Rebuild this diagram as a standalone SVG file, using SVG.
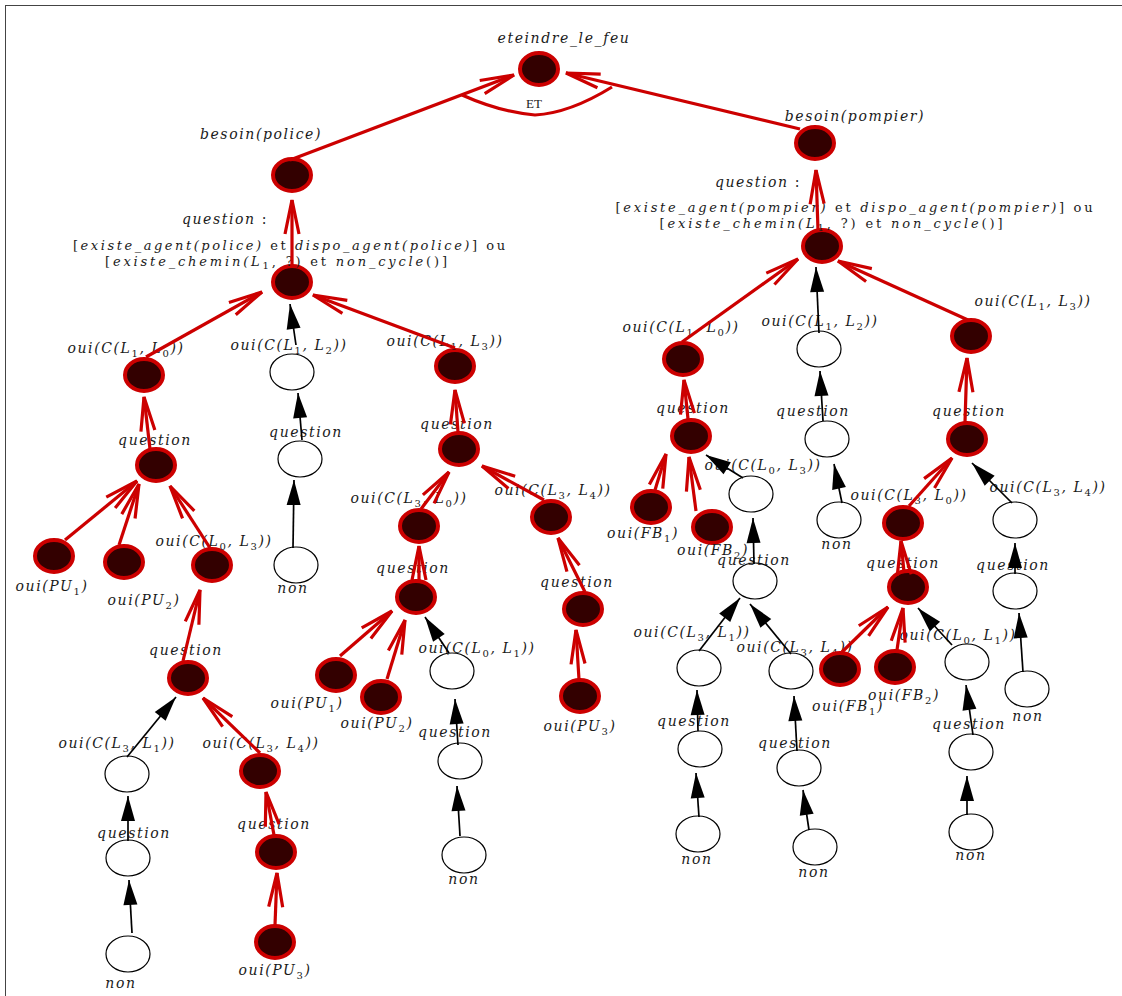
<svg xmlns="http://www.w3.org/2000/svg" width="1122" height="996" viewBox="0 0 1122 996">
<defs>
<style>
.m{font-family:"DejaVu Serif","Liberation Serif",serif;font-style:italic;font-size:14px;letter-spacing:1.6px;text-anchor:middle;fill:#1a1a1a}
.b{font-family:"DejaVu Serif","Liberation Serif",serif;font-style:normal;font-size:13px;text-anchor:middle;fill:#1a1a1a}
.i{font-style:italic}
.u{font-style:normal}
.s{font-size:10px;font-style:normal}
.red{fill:#330000;stroke:#cc0000;stroke-width:4}
.emp{fill:#fff;stroke:#000;stroke-width:1.2}
.er{stroke:#cc0000;stroke-width:3.2;fill:none;marker-end:url(#ar)}
.eb{stroke:#000;stroke-width:1.7;fill:none;marker-end:url(#ab)}
</style>
<marker id="ar" markerUnits="userSpaceOnUse" markerWidth="44" markerHeight="24" viewBox="-40 -12 44 24" refX="0" refY="0" orient="auto" overflow="visible"><path d="M-34,-7 L0,0 L-34,7" fill="none" stroke="#cc0000" stroke-width="3.2"/></marker>
<marker id="ab" markerUnits="userSpaceOnUse" markerWidth="30" markerHeight="20" viewBox="-28 -10 30 20" refX="0" refY="0" orient="auto" overflow="visible"><path d="M-25,-7 L0,0 L-25,7 Z" fill="#000"/></marker>
</defs>
<rect x="5.5" y="5.5" width="1130" height="1000" fill="none" stroke="#444" stroke-width="1"/>

<g id="nodes">
<g id="n-eteindre"><ellipse class="red" cx="539" cy="69" rx="19" ry="16"/><text class="m" x="564" y="43">eteindre_le_feu</text></g>
<g id="n-besoin-police"><ellipse class="red" cx="292" cy="175" rx="19" ry="16"/><text class="m" x="261" y="139">besoin(police)</text></g>
<g id="n-besoin-pompier"><ellipse class="red" cx="815" cy="143" rx="19" ry="16"/><text class="m" x="855" y="121">besoin(pompier)</text></g>
<g id="n-q-police"><ellipse class="red" cx="292" cy="282" rx="19" ry="16"/>
<text class="m" x="225" y="224">question<tspan class="u"> :</tspan></text>
<text class="b" x="289" y="250" textLength="432" lengthAdjust="spacing">[<tspan class="i">existe_agent(police)</tspan> et <tspan class="i">dispo_agent(police)</tspan>] ou</text>
<text class="b" x="276" y="266" textLength="342" lengthAdjust="spacing">[<tspan class="i">existe_chemin(L</tspan><tspan class="s" dy="3">1</tspan><tspan dy="-3">, ?) et </tspan><tspan class="i">non_cycle</tspan>()]</text></g>
<g id="n-q-pompier"><ellipse class="red" cx="822" cy="246" rx="19" ry="16"/>
<text class="m" x="758" y="187">question<tspan class="u"> :</tspan></text>
<text class="b" x="854" y="212" textLength="477" lengthAdjust="spacing">[<tspan class="i">existe_agent(pompier)</tspan> et <tspan class="i">dispo_agent(pompier)</tspan>] ou</text>
<text class="b" x="831" y="228" textLength="343" lengthAdjust="spacing">[<tspan class="i">existe_chemin(L</tspan><tspan class="s" dy="3">1</tspan><tspan dy="-3">, ?) et </tspan><tspan class="i">non_cycle</tspan>()]</text></g>

<g id="n-a1"><ellipse class="red" cx="144" cy="375" rx="19" ry="16"/><text class="m" x="126" y="353">oui(C(L<tspan class="s" dy="4">1</tspan><tspan dy="-4">, L</tspan><tspan class="s" dy="4">0</tspan><tspan dy="-4">))</tspan></text></g>
<g id="n-a2"><ellipse class="emp" cx="292" cy="372" rx="22" ry="18"/><text class="m" x="289" y="350">oui(C(L<tspan class="s" dy="4">1</tspan><tspan dy="-4">, L</tspan><tspan class="s" dy="4">2</tspan><tspan dy="-4">))</tspan></text></g>
<g id="n-a3"><ellipse class="red" cx="455" cy="366" rx="19" ry="16"/><text class="m" x="445" y="346">oui(C(L<tspan class="s" dy="4">1</tspan><tspan dy="-4">, L</tspan><tspan class="s" dy="4">3</tspan><tspan dy="-4">))</tspan></text></g>
<g id="n-a1q"><ellipse class="red" cx="156" cy="465" rx="19" ry="16"/><text class="m" x="155" y="445">question</text></g>
<g id="n-a2q"><ellipse class="emp" cx="300" cy="459" rx="22" ry="18"/><text class="m" x="306" y="437">question</text></g>
<g id="n-a2n"><ellipse class="emp" cx="296" cy="565" rx="22" ry="18"/><text class="m" x="293" y="593">non</text></g>
<g id="n-a1a"><ellipse class="red" cx="54" cy="556" rx="19" ry="16"/><text class="m" x="52" y="591">oui(PU<tspan class="s" dy="4">1</tspan><tspan dy="-4">)</tspan></text></g>
<g id="n-a1b"><ellipse class="red" cx="124" cy="562" rx="19" ry="16"/><text class="m" x="144" y="605">oui(PU<tspan class="s" dy="4">2</tspan><tspan dy="-4">)</tspan></text></g>
<g id="n-a1c"><ellipse class="red" cx="212" cy="565" rx="19" ry="16"/><text class="m" x="214" y="546">oui(C(L<tspan class="s" dy="4">0</tspan><tspan dy="-4">, L</tspan><tspan class="s" dy="4">3</tspan><tspan dy="-4">))</tspan></text></g>
<g id="n-a1cq"><ellipse class="red" cx="188" cy="678" rx="19" ry="16"/><text class="m" x="186" y="655">question</text></g>
<g id="n-a1cqa"><ellipse class="emp" cx="127" cy="774" rx="22" ry="18"/><text class="m" x="117" y="748">oui(C(L<tspan class="s" dy="4">3</tspan><tspan dy="-4">, L</tspan><tspan class="s" dy="4">1</tspan><tspan dy="-4">))</tspan></text></g>
<g id="n-a1cqb"><ellipse class="red" cx="260" cy="771" rx="19" ry="16"/><text class="m" x="261" y="748">oui(C(L<tspan class="s" dy="4">3</tspan><tspan dy="-4">, L</tspan><tspan class="s" dy="4">4</tspan><tspan dy="-4">))</tspan></text></g>
<g id="n-a1cqa-q"><ellipse class="emp" cx="128" cy="858" rx="22" ry="18"/><text class="m" x="134" y="838">question</text></g>
<g id="n-a1cqa-n"><ellipse class="emp" cx="128" cy="954" rx="22" ry="18"/><text class="m" x="121" y="988">non</text></g>
<g id="n-a1cqb-q"><ellipse class="red" cx="276" cy="852" rx="19" ry="16"/><text class="m" x="274" y="829">question</text></g>
<g id="n-a1cqb-p"><ellipse class="red" cx="275" cy="942" rx="19" ry="16"/><text class="m" x="275" y="975">oui(PU<tspan class="s" dy="4">3</tspan><tspan dy="-4">)</tspan></text></g>

<g id="n-a3q"><ellipse class="red" cx="459" cy="449" rx="19" ry="16"/><text class="m" x="457" y="429">question</text></g>
<g id="n-a3a"><ellipse class="red" cx="419" cy="526" rx="19" ry="16"/><text class="m" x="409" y="503">oui(C(L<tspan class="s" dy="4">3</tspan><tspan dy="-4">, L</tspan><tspan class="s" dy="4">0</tspan><tspan dy="-4">))</tspan></text></g>
<g id="n-a3b"><ellipse class="red" cx="551" cy="517" rx="19" ry="16"/><text class="m" x="553" y="495">oui(C(L<tspan class="s" dy="4">3</tspan><tspan dy="-4">, L</tspan><tspan class="s" dy="4">4</tspan><tspan dy="-4">))</tspan></text></g>
<g id="n-a3aq"><ellipse class="red" cx="416" cy="597" rx="19" ry="16"/><text class="m" x="413" y="573">question</text></g>
<g id="n-a3a-pu1"><ellipse class="red" cx="336" cy="675" rx="19" ry="16"/><text class="m" x="307" y="708">oui(PU<tspan class="s" dy="4">1</tspan><tspan dy="-4">)</tspan></text></g>
<g id="n-a3a-pu2"><ellipse class="red" cx="381" cy="697" rx="19" ry="16"/><text class="m" x="377" y="728">oui(PU<tspan class="s" dy="4">2</tspan><tspan dy="-4">)</tspan></text></g>
<g id="n-a3a-c"><ellipse class="emp" cx="452" cy="671" rx="22" ry="18"/><text class="m" x="477" y="653">oui(C(L<tspan class="s" dy="4">0</tspan><tspan dy="-4">, L</tspan><tspan class="s" dy="4">1</tspan><tspan dy="-4">))</tspan></text></g>
<g id="n-a3a-c-q"><ellipse class="emp" cx="460" cy="761" rx="22" ry="18"/><text class="m" x="455" y="737">question</text></g>
<g id="n-a3a-c-n"><ellipse class="emp" cx="464" cy="855" rx="22" ry="18"/><text class="m" x="464" y="884">non</text></g>
<g id="n-a3bq"><ellipse class="red" cx="583" cy="609" rx="19" ry="16"/><text class="m" x="577" y="587">question</text></g>
<g id="n-a3b-p"><ellipse class="red" cx="580" cy="696" rx="19" ry="16"/><text class="m" x="580" y="731">oui(PU<tspan class="s" dy="4">3</tspan><tspan dy="-4">)</tspan></text></g>

<g id="n-b1"><ellipse class="red" cx="683" cy="359" rx="19" ry="16"/><text class="m" x="681" y="332">oui(C(L<tspan class="s" dy="4">1</tspan><tspan dy="-4">, L</tspan><tspan class="s" dy="4">0</tspan><tspan dy="-4">))</tspan></text></g>
<g id="n-b2"><ellipse class="emp" cx="819" cy="349" rx="22" ry="18"/><text class="m" x="820" y="326">oui(C(L<tspan class="s" dy="4">1</tspan><tspan dy="-4">, L</tspan><tspan class="s" dy="4">2</tspan><tspan dy="-4">))</tspan></text></g>
<g id="n-b3"><ellipse class="red" cx="971" cy="336" rx="19" ry="16"/><text class="m" x="1033" y="306">oui(C(L<tspan class="s" dy="4">1</tspan><tspan dy="-4">, L</tspan><tspan class="s" dy="4">3</tspan><tspan dy="-4">))</tspan></text></g>
<g id="n-b1q"><ellipse class="red" cx="691" cy="436" rx="19" ry="16"/><text class="m" x="693" y="413">question</text></g>
<g id="n-b1a"><ellipse class="red" cx="651" cy="507" rx="19" ry="16"/><text class="m" x="643" y="538">oui(FB<tspan class="s" dy="4">1</tspan><tspan dy="-4">)</tspan></text></g>
<g id="n-b1b"><ellipse class="red" cx="712" cy="527" rx="19" ry="16"/><text class="m" x="713" y="555">oui(FB<tspan class="s" dy="4">2</tspan><tspan dy="-4">)</tspan></text></g>
<g id="n-b1c"><ellipse class="emp" cx="751" cy="494" rx="22" ry="18"/><text class="m" x="763" y="470">oui(C(L<tspan class="s" dy="4">0</tspan><tspan dy="-4">, L</tspan><tspan class="s" dy="4">3</tspan><tspan dy="-4">))</tspan></text></g>
<g id="n-b1cq"><ellipse class="emp" cx="755" cy="581" rx="22" ry="18"/><text class="m" x="754" y="565">question</text></g>
<g id="n-b1cq-a"><ellipse class="emp" cx="699" cy="668" rx="22" ry="18"/><text class="m" x="692" y="637">oui(C(L<tspan class="s" dy="4">3</tspan><tspan dy="-4">, L</tspan><tspan class="s" dy="4">1</tspan><tspan dy="-4">))</tspan></text></g>
<g id="n-b1cq-b"><ellipse class="emp" cx="791" cy="671" rx="22" ry="18"/><text class="m" x="795" y="652">oui(C(L<tspan class="s" dy="4">3</tspan><tspan dy="-4">, L</tspan><tspan class="s" dy="4">4</tspan><tspan dy="-4">))</tspan></text></g>
<g id="n-b1cq-a-q"><ellipse class="emp" cx="700" cy="749" rx="22" ry="18"/><text class="m" x="694" y="726">question</text></g>
<g id="n-b1cq-a-n"><ellipse class="emp" cx="698" cy="834" rx="22" ry="18"/><text class="m" x="697" y="864">non</text></g>
<g id="n-b1cq-b-q"><ellipse class="emp" cx="799" cy="768" rx="22" ry="18"/><text class="m" x="795" y="748">question</text></g>
<g id="n-b1cq-b-n"><ellipse class="emp" cx="815" cy="847" rx="22" ry="18"/><text class="m" x="814" y="877">non</text></g>
<g id="n-b2q"><ellipse class="emp" cx="827" cy="439" rx="22" ry="18"/><text class="m" x="813" y="416">question</text></g>
<g id="n-b2n"><ellipse class="emp" cx="839" cy="520" rx="22" ry="18"/><text class="m" x="837" y="549">non</text></g>
<g id="n-b3q"><ellipse class="red" cx="967" cy="439" rx="19" ry="16"/><text class="m" x="969" y="416">question</text></g>
<g id="n-b3a"><ellipse class="red" cx="903" cy="523" rx="19" ry="16"/><text class="m" x="909" y="500">oui(C(L<tspan class="s" dy="4">3</tspan><tspan dy="-4">, L</tspan><tspan class="s" dy="4">0</tspan><tspan dy="-4">))</tspan></text></g>
<g id="n-b3b"><ellipse class="emp" cx="1015" cy="520" rx="22" ry="18"/><text class="m" x="1048" y="492">oui(C(L<tspan class="s" dy="4">3</tspan><tspan dy="-4">, L</tspan><tspan class="s" dy="4">4</tspan><tspan dy="-4">))</tspan></text></g>
<g id="n-b3aq"><ellipse class="red" cx="908" cy="587" rx="19" ry="16"/><text class="m" x="903" y="568">question</text></g>
<g id="n-b3a-fb1"><ellipse class="red" cx="840" cy="669" rx="19" ry="16"/><text class="m" x="848" y="711">oui(FB<tspan class="s" dy="4">1</tspan><tspan dy="-4">)</tspan></text></g>
<g id="n-b3a-fb2"><ellipse class="red" cx="895" cy="667" rx="19" ry="16"/><text class="m" x="904" y="700">oui(FB<tspan class="s" dy="4">2</tspan><tspan dy="-4">)</tspan></text></g>
<g id="n-b3a-c"><ellipse class="emp" cx="967" cy="662" rx="22" ry="18"/><text class="m" x="958" y="640">oui(C(L<tspan class="s" dy="4">0</tspan><tspan dy="-4">, L</tspan><tspan class="s" dy="4">1</tspan><tspan dy="-4">))</tspan></text></g>
<g id="n-b3a-c-q"><ellipse class="emp" cx="971" cy="752" rx="22" ry="18"/><text class="m" x="969" y="729">question</text></g>
<g id="n-b3a-c-n"><ellipse class="emp" cx="971" cy="832" rx="22" ry="18"/><text class="m" x="971" y="860">non</text></g>
<g id="n-b3bq"><ellipse class="emp" cx="1015" cy="591" rx="22" ry="18"/><text class="m" x="1013" y="570">question</text></g>
<g id="n-b3b-n"><ellipse class="emp" cx="1027" cy="689" rx="22" ry="18"/><text class="m" x="1028" y="721">non</text></g>
</g>

<g id="connectors">
<path d="M462,95 Q500,112 535,115 Q570,113 612,87" fill="none" stroke="#cc0000" stroke-width="3.2"/>
<text class="b" x="534" y="108" style="font-family:'Liberation Serif',serif;font-size:13px">ET</text>
<line class="er" x1="290" y1="160" x2="514" y2="75"/>
<line class="er" x1="800" y1="129" x2="566" y2="73"/>
<line class="er" x1="292" y1="265" x2="292" y2="200"/>
<line class="er" x1="818" y1="230" x2="816" y2="170"/>
<line class="er" x1="146" y1="357" x2="262" y2="292"/>
<line class="er" x1="455" y1="348" x2="313" y2="295"/>
<line class="er" x1="150" y1="449" x2="144" y2="397"/>
<line class="er" x1="65" y1="540" x2="137" y2="481"/>
<line class="er" x1="119" y1="545" x2="139" y2="484"/>
<line class="er" x1="210" y1="548" x2="170" y2="486"/>
<line class="er" x1="183" y1="661" x2="200" y2="590"/>
<line class="er" x1="260" y1="753" x2="203" y2="698"/>
<line class="er" x1="274" y1="835" x2="266" y2="792"/>
<line class="er" x1="275" y1="925" x2="277" y2="873"/>
<line class="er" x1="458" y1="432" x2="455" y2="390"/>
<line class="er" x1="421" y1="509" x2="449" y2="472"/>
<line class="er" x1="544" y1="500" x2="482" y2="466"/>
<line class="er" x1="419" y1="580" x2="419" y2="546"/>
<line class="er" x1="340" y1="656" x2="392" y2="611"/>
<line class="er" x1="387" y1="679" x2="405" y2="620"/>
<line class="er" x1="585" y1="592" x2="558" y2="538"/>
<line class="er" x1="579" y1="680" x2="576" y2="630"/>
<line class="er" x1="682" y1="342" x2="798" y2="259"/>
<line class="er" x1="968" y1="320" x2="838" y2="261"/>
<line class="er" x1="688" y1="419" x2="684" y2="380"/>
<line class="er" x1="655" y1="490" x2="666" y2="454"/>
<line class="er" x1="696" y1="511" x2="689" y2="457"/>
<line class="er" x1="965" y1="422" x2="967" y2="358"/>
<line class="er" x1="909" y1="506" x2="952" y2="458"/>
<line class="er" x1="904" y1="572" x2="901" y2="541"/>
<line class="er" x1="842" y1="652" x2="888" y2="607"/>
<line class="er" x1="897" y1="650" x2="903" y2="608"/>

<line class="eb" x1="296" y1="345" x2="290" y2="304"/>
<line class="eb" x1="302" y1="440" x2="298" y2="393"/>
<line class="eb" x1="293" y1="548" x2="294" y2="480"/>
<line class="eb" x1="127" y1="757" x2="176" y2="697"/>
<line class="eb" x1="128" y1="841" x2="128" y2="796"/>
<line class="eb" x1="132" y1="933" x2="129" y2="880"/>
<line class="eb" x1="449" y1="653" x2="425" y2="617"/>
<line class="eb" x1="458" y1="745" x2="455" y2="699"/>
<line class="eb" x1="460" y1="836" x2="457" y2="786"/>
<line class="eb" x1="819" y1="333" x2="816" y2="267"/>
<line class="eb" x1="823" y1="421" x2="820" y2="371"/>
<line class="eb" x1="842" y1="503" x2="834" y2="464"/>
<line class="eb" x1="743" y1="478" x2="706" y2="455"/>
<line class="eb" x1="754" y1="564" x2="753" y2="518"/>
<line class="eb" x1="699" y1="651" x2="740" y2="598"/>
<line class="eb" x1="791" y1="654" x2="750" y2="604"/>
<line class="eb" x1="698" y1="731" x2="697" y2="690"/>
<line class="eb" x1="699" y1="817" x2="696" y2="773"/>
<line class="eb" x1="797" y1="751" x2="794" y2="696"/>
<line class="eb" x1="809" y1="830" x2="803" y2="790"/>
<line class="eb" x1="1012" y1="503" x2="972" y2="463"/>
<line class="eb" x1="1015" y1="574" x2="1015" y2="543"/>
<line class="eb" x1="1023" y1="672" x2="1019" y2="613"/>
<line class="eb" x1="952" y1="645" x2="918" y2="608"/>
<line class="eb" x1="973" y1="735" x2="966" y2="685"/>
<line class="eb" x1="967" y1="815" x2="967" y2="776"/>
</g>
</svg>
